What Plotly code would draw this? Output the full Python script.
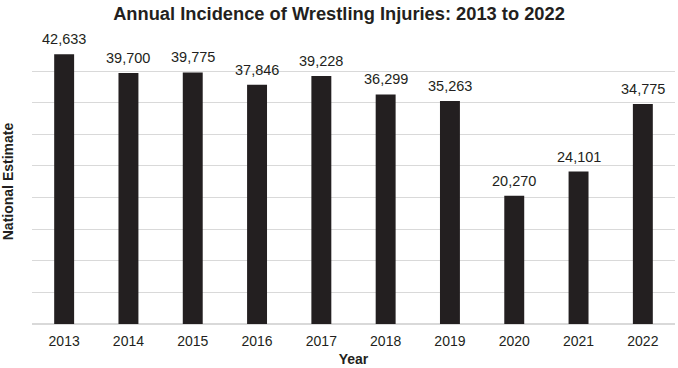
import plotly.graph_objects as go

years = ["2013", "2014", "2015", "2016", "2017", "2018", "2019", "2020", "2021", "2022"]
estimates = [42633, 39700, 39775, 37846, 39228, 36299, 35263, 20270, 24101, 34775]
labels = [f"{v:,}" for v in estimates]

bar_color = "#231f20"
grid_color = "#d9d9d9"
font_family = "Liberation Sans, Arial, sans-serif"

fig = go.Figure(go.Bar(
    x=years, y=estimates,
    marker=dict(color=bar_color, line=dict(width=0)),
    hoverinfo="x+y",
))

# on a category axis, annotations are positioned by category index
for idx, (val, lab) in enumerate(zip(estimates, labels)):
    fig.add_annotation(x=idx, y=val, text=lab, showarrow=False,
                       xanchor="center", yanchor="bottom", yshift=5,
                       font=dict(size=14.5, color="#231f20", family=font_family))

fig.update_layout(
    width=678, height=368,
    margin=dict(l=32, r=3, t=39, b=44),
    paper_bgcolor="white", plot_bgcolor="white",
    bargap=0.69,
    showlegend=False,
    font=dict(family=font_family, color="#231f20"),
    title=dict(text="<b>Annual Incidence of Wrestling Injuries: 2013 to 2022</b>",
               x=0.5, xanchor="center", y=1 - 14 / 368, yanchor="middle",
               font=dict(size=18.3, color="#231f20", family=font_family)),
    xaxis=dict(type="category",
               title=dict(text="<b>Year</b>", font=dict(size=14), standoff=6),
               tickfont=dict(size=14, color="#231f20"), ticklabelstandoff=4,
               showline=True, linecolor=grid_color, linewidth=1,
               showgrid=False, ticks="", automargin=False),
    yaxis=dict(title=dict(text="<b>National Estimate</b>", font=dict(size=14), standoff=16),
               range=[0, 45060], tick0=0, dtick=5000, showticklabels=False,
               showgrid=True, gridcolor=grid_color, gridwidth=1,
               zeroline=True, zerolinecolor=grid_color, ticks="", automargin=False),
)

fig.write_html("out.html", config={"displayModeBar": False},
               post_script="document.body.style.margin='0';")
